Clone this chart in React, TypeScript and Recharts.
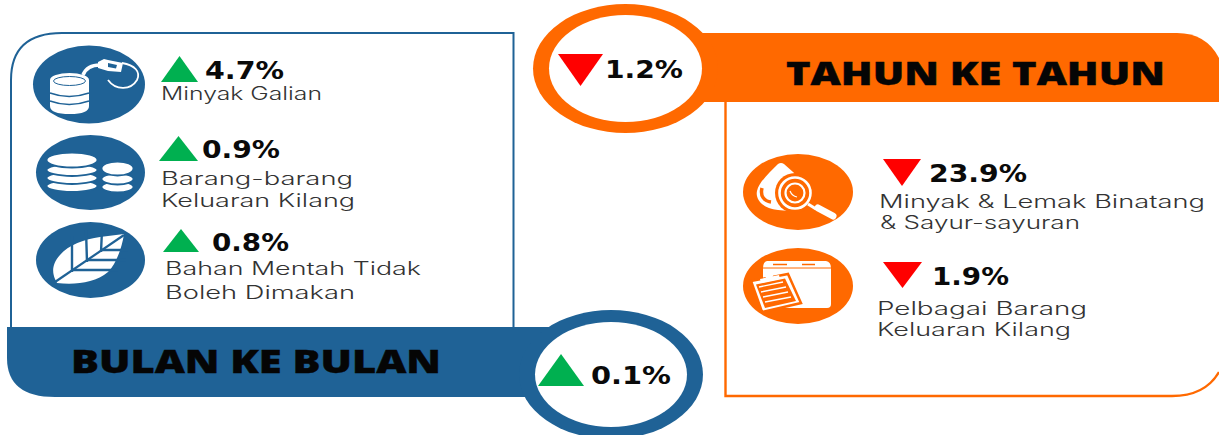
import { ScatterChart, Scatter, XAxis, YAxis } from 'recharts';

// values read from the infographic
const monthLabels = [['Minyak Galian'], ['Barang-barang', 'Keluaran Kilang'], ['Bahan Mentah Tidak', 'Boleh Dimakan']];
const monthChanges = [4.7, 0.9, 0.8];
const yearLabels = [['Minyak & Lemak Binatang', '& Sayur-sayuran'], ['Pelbagai Barang', 'Keluaran Kilang']];
const yearChanges = [-23.9, -1.9];
const monthTotal = 0.1;
const yearTotal = -1.2;
const monthTitle = 'BULAN KE BULAN';
const yearTitle = 'TAHUN KE TAHUN';

const BLUE = '#1f6296';
const ORANGE = '#ff6900';
const GREEN = '#00b050';
const RED = '#ff0000';
const LABEL = '#333333';

const W = 1219;
const H = 435;

// page positions for each marker, same order as the values
const markerLayout = [
  { x: 179.5, y: 69, w: 37, h: 26, vx: 205, vw: 79, vy: 79, lines: [{ x: 161, y: 100, w: 161 }] },
  { x: 178.5, y: 148.5, w: 39, h: 25, vx: 202, vw: 78, vy: 158, lines: [{ x: 161, y: 185, w: 192 }, { x: 161, y: 207, w: 194 }] },
  { x: 181, y: 240.5, w: 36, h: 23, vx: 212, vw: 77, vy: 251, lines: [{ x: 165, y: 275, w: 256 }, { x: 165, y: 299, w: 190 }] },
  { x: 902, y: 172.5, w: 38, h: 27, vx: 929, vw: 98, vy: 182, lines: [{ x: 879, y: 208, w: 326 }, { x: 880, y: 229, w: 200 }] },
  { x: 902.5, y: 275, w: 39, h: 26, vx: 932, vw: 77, vy: 285, lines: [{ x: 877, y: 315, w: 210 }, { x: 877, y: 336, w: 194 }] },
  { x: 561, y: 370, w: 46, h: 32, vx: 591, vw: 80, vy: 384, lines: [] },
  { x: 580.5, y: 70, w: 45, h: 32, vx: 605, vw: 78, vy: 78, lines: [] },
];

const allLabels = [...monthLabels, ...yearLabels, [], []];
const allChanges = [...monthChanges, ...yearChanges, monthTotal, yearTotal];
const points = allChanges.map((change, i) => ({
  x: markerLayout[i].x,
  y: markerLayout[i].y,
  change,
  lines: allLabels[i],
  layout: markerLayout[i],
}));

const ChangeMarker = (props: any) => {
  const { cx, cy, payload } = props;
  const { change, lines, layout } = payload;
  const up = change >= 0;
  const hw = layout.w / 2;
  const hh = layout.h / 2;
  const tri = up
    ? `M${cx - hw},${cy + hh}L${cx},${cy - hh}L${cx + hw},${cy + hh}Z`
    : `M${cx - hw},${cy - hh}L${cx + hw},${cy - hh}L${cx},${cy + hh}Z`;
  const dx = cx - layout.x;
  const dy = cy - layout.y;
  return (
    <g>
      <path d={tri} fill={up ? GREEN : RED} />
      <text
        x={layout.vx + dx}
        y={layout.vy + dy}
        fontFamily="DejaVu Sans"
        fontWeight={700}
        fontSize={25}
        fill="#0a0a0a"
        textLength={layout.vw}
        lengthAdjust="spacingAndGlyphs"
      >
        {Math.abs(change).toFixed(1)}%
      </text>
      {lines.map((line: string, i: number) => (
        <text
          key={line}
          x={layout.lines[i].x + dx}
          y={layout.lines[i].y + dy}
          fontFamily="Inter"
          fontWeight={300}
          fontSize={18}
          fill={LABEL}
          textLength={layout.lines[i].w}
          lengthAdjust="spacingAndGlyphs"
        >
          {line}
        </text>
      ))}
    </g>
  );
};

const BarrelIcon = () => (
  <g>
    <ellipse cx={89} cy={84.5} rx={56} ry={39} fill={BLUE} />
    <path d="M50,80 V106 Q50,114 70,114 Q89,114 89,106 V80 Z" fill="#fff" />
    <path d="M50,93 Q69,100 89,93 M50,101 Q69,108 89,101" stroke={BLUE} strokeWidth={1.4} fill="none" />
    <ellipse cx={69.5} cy={80} rx={19.5} ry={7} fill="#fff" />
    <ellipse cx={69.5} cy={81} rx={16} ry={4.5} fill="none" stroke={BLUE} strokeWidth={1} />
    <path d="M83,75 Q87,65 100,65" stroke="#fff" strokeWidth={3.5} fill="none" />
    <path d="M98,62 L104,59 L108,60 L123,63 L121,72 L108,71 L98,68 Z" fill="#fff" />
    <path d="M108,63 L117,65 L116,68.5 L108,67 Z" fill={BLUE} />
    <path d="M122,63 C135,65 141,72 137,80 C131,90 116,91 108,80" stroke="#fff" strokeWidth={1.8} fill="none" />
  </g>
);

const CoinsIcon = () => (
  <g>
    <ellipse cx={90.5} cy={172.5} rx={54.5} ry={37.5} fill={BLUE} />
    {[186, 178, 170, 160].map((y) => (
      <ellipse key={y} cx={72} cy={y} rx={25.5} ry={y === 160 ? 7.5 : 6} fill="#fff" stroke={BLUE} strokeWidth={1.8} />
    ))}
    {[187, 179, 168.5].map((y) => (
      <ellipse key={y} cx={117.5} cy={y} rx={16} ry={y === 168.5 ? 7 : 5.5} fill="#fff" stroke={BLUE} strokeWidth={1.8} />
    ))}
  </g>
);

const LeafIcon = () => (
  <g>
    <ellipse cx={90.5} cy={260} rx={54.5} ry={38} fill={BLUE} />
    <path d="M124,234 L100,237 C85,239 68,245 60,255 C52,264 52,272 55,279 L57,283 C75,285 95,283 108,272 C116,264 122,248 124,234 Z" fill="#fff" />
    <path d="M55,282 L124,235" stroke={BLUE} strokeWidth={2.2} fill="none" />
    <path d="M72,272 L72,236 M87,262 L86,230 M101,252 L102,230 M72,270 L118,270 M87,260 L126,260 M101,250 L128,250" stroke={BLUE} strokeWidth={2.4} fill="none" />
  </g>
);

const DropIcon = () => (
  <g>
    <ellipse cx={798} cy={192} rx={55} ry={38} fill={ORANGE} />
    <path d="M778,164 Q781,162 784,164 L802,180 L800,212 L778,210 C764,209 755,200 757,191 C759,182 770,172 778,164 Z" fill="#fff" />
    <path d="M762,188 C760,196 764,201 771,202" stroke={ORANGE} strokeWidth={3.5} fill="none" />
    <circle cx={795} cy={193} r={20} fill={ORANGE} />
    <circle cx={795} cy={193} r={15.5} fill="none" stroke="#fff" strokeWidth={2.6} />
    <circle cx={795} cy={193} r={9.5} fill="none" stroke="#fff" strokeWidth={2.2} />
    <path d="M790,191 Q792,196 797,197" stroke="#fff" strokeWidth={1.2} fill="none" />
    <path d="M808,204 L816,209" stroke="#fff" strokeWidth={3} />
    <path d="M818,208 L833,216" stroke="#fff" strokeWidth={7} strokeLinecap="round" />
  </g>
);

const BoxIcon = () => (
  <g>
    <ellipse cx={798} cy={286} rx={55} ry={38} fill={ORANGE} />
    <path d="M767,261 H826 Q831,262 831,268 V304 Q831,308 827,308 H768 Q763,308 763,304 V268 Q763,262 767,261 Z" fill="#fff" />
    <path d="M763,268 H831" stroke={ORANGE} strokeWidth={1} />
    <path d="M773,264.5 H787 M802,264.5 H815" stroke={ORANGE} strokeWidth={1.4} />
    <path d="M751,281 L788,274 L801,303 L762,312 Z" fill="#fff" stroke={ORANGE} strokeWidth={2.5} />
    <path d="M756,284.5 L785,278.5 L796,301 L765,308 Z" fill={ORANGE} />
    <path d="M759,287 L783,282 M761,292 L786,287 M763,297 L788,292 M765,302 L791,297" stroke="#fff" strokeWidth={1.4} />
    <circle cx={769} cy={275} r={4} fill="#fff" />
    <path d="M760,279 L779,275 L780,279 L761,283 Z" fill="#fff" />
  </g>
);

// panels and banners sit behind the markers
const Panels = () => (
  <g>
    <path d="M11,327 V80 Q11,33 62,33 H513.5 V327" fill="none" stroke={BLUE} strokeWidth={2} />
    <path d="M7,327 H560 V397 H55 Q7,397 7,358 Z" fill={BLUE} />
    <ellipse cx={611} cy={374.5} rx={92} ry={64.5} fill={BLUE} />
    <ellipse cx={611} cy={374.5} rx={76} ry={52.5} fill="#fff" />
    <text x={71} y={373} fontFamily="Open Sans" fontWeight={800} fontSize={32} fill="#050505" stroke="#050505" strokeWidth={0.4} textLength={370} lengthAdjust="spacingAndGlyphs">
      {monthTitle}
    </text>

    <path d="M725.5,102 V396 H1172 Q1205,396 1219,372" fill="none" stroke={ORANGE} strokeWidth={2.4} />
    <path d="M680,33 H1177 Q1206,33 1219,58 V102 H680 Z" fill={ORANGE} />
    <ellipse cx={625.5} cy={68.5} rx={92.5} ry={64.5} fill={ORANGE} />
    <ellipse cx={625.5} cy={68.5} rx={76.5} ry={53.5} fill="#fff" />
    <text x={786} y={85} fontFamily="Open Sans" fontWeight={800} fontSize={32} fill="#050505" stroke="#050505" strokeWidth={0.4} textLength={379} lengthAdjust="spacingAndGlyphs">
      {yearTitle}
    </text>

    <BarrelIcon />
    <CoinsIcon />
    <LeafIcon />
    <DropIcon />
    <BoxIcon />
  </g>
);

export default function App() {
  return (
    <div style={{ position: 'absolute', left: 0, top: 0, width: W, height: H, background: '#fff' }}>
      <ScatterChart width={W} height={H} margin={{ top: 0, right: 0, bottom: 0, left: 0 }}>
        <XAxis type="number" dataKey="x" domain={[0, W]} hide />
        <YAxis type="number" dataKey="y" domain={[0, H]} reversed hide />
        <Panels />
        <Scatter data={points} shape={ChangeMarker} isAnimationActive={false} />
      </ScatterChart>
    </div>
  );
}
